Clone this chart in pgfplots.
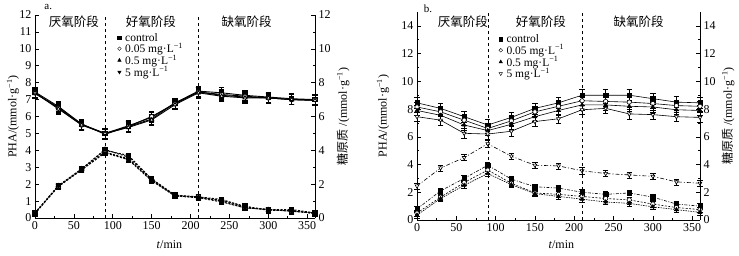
\documentclass[border=0pt]{standalone}
\usepackage{fontspec}
\setmainfont{Liberation Serif}
\newfontfamily\cjk{Noto Sans CJK SC}
\usepackage{pgfplots}
\usepackage{pgfplotstable}
\pgfplotsset{compat=1.18}

\pgfplotstableread{
t gc g005 g05 g5 pc p005 p05 p5
0 7.45 7.40 7.35 7.40 0.30 0.30 0.25 0.30
30 6.60 6.50 6.55 6.45 1.90 1.85 1.90 1.90
60 5.55 5.50 5.55 5.50 2.90 2.85 2.90 2.85
90 5.00 5.00 4.95 5.00 4.00 3.90 4.05 3.85
120 5.45 5.40 5.40 5.35 3.70 3.50 3.60 3.45
150 5.95 6.00 5.85 5.80 2.30 2.25 2.30 2.20
180 6.80 6.75 6.80 6.70 1.35 1.30 1.35 1.30
210 7.50 7.45 7.45 7.40 1.25 1.25 1.20 1.20
240 7.40 7.30 7.25 7.20 1.10 1.00 1.05 0.95
270 7.25 7.20 7.15 7.10 0.65 0.60 0.70 0.60
300 7.15 7.10 7.10 7.10 0.50 0.50 0.45 0.50
330 7.05 7.00 7.00 7.00 0.50 0.40 0.45 0.40
360 7.00 7.00 6.95 6.95 0.30 0.30 0.25 0.30
}\tabA

\pgfplotstableread{
t gc g005 g05 g5 pc p005 p05 p5
0 8.45 8.15 7.90 7.45 0.80 0.50 0.35 2.45
30 8.05 7.80 7.55 7.20 2.10 1.65 1.55 3.75
60 7.45 7.20 6.85 6.25 3.00 2.70 2.50 4.50
90 6.85 6.60 6.45 6.20 3.95 3.60 3.35 5.50
120 7.40 7.15 6.90 6.40 2.95 2.65 2.55 4.60
150 8.05 7.80 7.45 7.10 2.40 1.95 1.90 3.95
180 8.45 8.20 7.90 7.30 2.30 1.85 1.70 3.90
210 9.00 8.60 8.30 7.95 2.00 1.70 1.50 3.55
240 9.00 8.55 8.30 8.05 1.85 1.55 1.30 3.35
270 9.00 8.50 8.20 7.65 1.95 1.45 1.20 3.25
300 8.75 8.40 8.15 7.60 1.65 1.15 0.95 3.15
330 8.50 8.25 7.95 7.45 1.15 0.90 0.75 2.75
360 8.45 8.20 7.90 7.40 1.00 0.75 0.55 2.65
}\tabB

\newcommand{\fs}{\fontsize{12}{14}\selectfont}
\newcommand{\fc}{\fontsize{12.5}{14}\selectfont}
\pgfplotsset{
  base/.style={scale only axis, xmin=0, xmax=360, xtick={0,50,...,350},
    minor x tick num=1, tick align=inside, major tick length=4pt,
    minor tick length=2pt, /pgf/number format/assume math mode=true,
    tick label style={font=\fs}, label style={font=\fs}, clip=false,
    axis line style={line width=0.6pt},
    every tick/.style={black, line width=0.6pt}},
  sq/.style={mark=square*, mark options={solid, fill=black}},
  ci/.style={mark=*, mark options={solid, fill=white}},
  tr/.style={mark=triangle*, mark options={solid, fill=black}},
  ita/.style={mark=triangle*, mark options={solid, fill=black, rotate=180}},
  itb/.style={mark=triangle*, mark options={solid, fill=white, rotate=180}},
  eb/.style={error bars/y dir=both, error bars/y fixed=#1,
    error bars/error bar style={solid, line width=0.5pt},
    error bars/error mark options={solid, mark size=2.7pt, line width=0.5pt, rotate=90}},
  leg/.style={legend style={draw=none, fill=none, font=\fontsize{11.5}{12}\selectfont,
    row sep=-1.5pt, column sep=3pt, inner sep=0pt, nodes={inner sep=1pt}}, legend cell align=left},
}

\begin{document}
\begin{tikzpicture}
\useasboundingbox (0,0) rectangle (739pt,255pt);
% ---------------- panel a ----------------
\begin{axis}[base, at={(35pt,37pt)}, anchor=south west, width=280pt, height=203pt,
  ymin=0, ymax=12, ytick={0,...,12}, axis x line*=bottom, axis y line*=left,
  xlabel={\textit{t}/min}, ylabel={PHA/(mmol·g\textsuperscript{−1})},
  xlabel style={at={(axis description cs:0.48,-0.133)}, anchor=center},
  ylabel style={at={(axis description cs:-0.079,0.5)}, anchor=center},
  mark size=2.2pt]
\addplot[black, dashed, forget plot] coordinates {(90,0) (90,12)};
\addplot[black, dash pattern=on 2pt off 1.5pt, line width=1pt, sq, eb=0.15] table[x=t,y=pc]{\tabA};
\addplot[black, dash pattern=on 2pt off 1.5pt, line width=1pt, ci, eb=0.15] table[x=t,y=p005]{\tabA};
\addplot[black, dash pattern=on 2pt off 1.5pt, line width=1pt, tr, eb=0.15] table[x=t,y=p05]{\tabA};
\addplot[black, dash pattern=on 2pt off 1.5pt, line width=1pt, ita, eb=0.15] table[x=t,y=p5]{\tabA};
\node[font=\cjk\fc] at (axis cs:50,11.59) {厌氧阶段};
\node[font=\cjk\fc] at (axis cs:149,11.59) {好氧阶段};
\node[font=\cjk\fc] at (axis cs:272,11.59) {缺氧阶段};
\node[font=\fontsize{11}{12}\selectfont] at (axis cs:17,12.5) {a.};
\end{axis}
\begin{axis}[base, at={(35pt,37pt)}, anchor=south west, width=280pt, height=203pt,
  ymin=0, ymax=12, ytick={0,2,...,12}, minor y tick num=1,
  axis x line=none, axis y line*=right,
  ylabel={{\cjk 糖原质} /(mmol·g\textsuperscript{−1})},
  ylabel style={at={(axis description cs:1.1,0.5)}, anchor=center},
  mark size=2.2pt, leg, legend style={at={(axis cs:106,11.0)}, anchor=north west}]
\addplot[black, line width=0.9pt, sq, eb=0.3, forget plot] table[x=t,y=gc]{\tabA};
\addplot[black, line width=0.9pt, tr, eb=0.3, forget plot] table[x=t,y=g05]{\tabA};
\addplot[black, line width=0.9pt, ci, eb=0.3, forget plot] table[x=t,y=g005]{\tabA};
\addplot[black, line width=0.9pt, mark=triangle*, mark options={solid, fill=white}, eb=0.3, forget plot] table[x=t,y=g5]{\tabA};
\addplot[black, dashed, forget plot] coordinates {(210,0) (210,12)};
\addlegendimage{only marks, black, sq, mark size=1.8pt}
\addlegendentry{control}
\addlegendimage{only marks, black, ci, mark size=1.8pt}
\addlegendentry{0.05 mg·L\textsuperscript{−1}}
\addlegendimage{only marks, black, tr, mark size=2pt}
\addlegendentry{0.5 mg·L\textsuperscript{−1}}
\addlegendimage{only marks, black, ita, mark size=2pt}
\addlegendentry{5 mg·L\textsuperscript{−1}}
\end{axis}
% ---------------- panel b ----------------
\begin{axis}[base, at={(417pt,35pt)}, anchor=south west, width=283pt, height=208pt,
  ymin=0, ymax=15, ytick={0,2,...,14}, minor y tick num=1,
  axis x line*=bottom, axis y line*=left,
  xlabel={\textit{t}/min}, ylabel={PHA/(mmol·g\textsuperscript{−1})},
  xlabel style={at={(axis description cs:0.51,-0.12)}, anchor=center},
  ylabel style={at={(axis description cs:-0.12,0.5)}, anchor=center},
  mark size=2.2pt]
\addplot[black, dashed, forget plot] coordinates {(90,0) (90,15)};
\addplot[black, dash pattern=on 3pt off 1.5pt on 1pt off 1.5pt, line width=0.6pt, sq, eb=0.2] table[x=t,y=pc]{\tabB};
\addplot[black, dash pattern=on 2pt off 1.5pt, line width=0.6pt, ci, eb=0.2] table[x=t,y=p005]{\tabB};
\addplot[black, dash pattern=on 1.5pt off 1pt, line width=0.6pt, tr, eb=0.2] table[x=t,y=p05]{\tabB};
\addplot[black, dash pattern=on 4pt off 2pt on 1pt off 2pt, line width=0.6pt, itb, eb=0.22] table[x=t,y=p5]{\tabB};
\node[font=\cjk\fc] at (axis cs:58.5,14.28) {厌氧阶段};
\node[font=\cjk\fc] at (axis cs:157.7,14.28) {好氧阶段};
\node[font=\cjk\fc] at (axis cs:282,14.28) {缺氧阶段};
\node[font=\fontsize{11}{12}\selectfont] at (axis cs:14,15.2) {b.};
\end{axis}
\begin{axis}[base, at={(417pt,35pt)}, anchor=south west, width=283pt, height=208pt,
  ymin=0, ymax=15, ytick={0,2,...,14}, minor y tick num=1,
  axis x line=none, axis y line*=right,
  ylabel={{\cjk 糖原质} /(mmol·g\textsuperscript{−1})},
  ylabel style={at={(axis description cs:1.099,0.5)}, anchor=center},
  mark size=2.2pt, leg, legend style={at={(axis cs:104,13.45)}, anchor=north west}]
\addplot[black, line width=0.6pt, sq, eb=0.4, forget plot] table[x=t,y=gc]{\tabB};
\addplot[black, line width=0.6pt, ci, eb=0.35, forget plot] table[x=t,y=g005]{\tabB};
\addplot[black, line width=0.6pt, tr, eb=0.35, forget plot] table[x=t,y=g05]{\tabB};
\addplot[black, line width=0.6pt, itb, eb=0.35, forget plot] table[x=t,y=g5]{\tabB};
\addplot[black, dashed, forget plot] coordinates {(210,0) (210,15)};
\addlegendimage{only marks, black, sq, mark size=1.8pt}
\addlegendentry{control}
\addlegendimage{only marks, black, ci, mark size=1.8pt}
\addlegendentry{0.05 mg·L\textsuperscript{−1}}
\addlegendimage{only marks, black, tr, mark size=2pt}
\addlegendentry{0.5 mg·L\textsuperscript{−1}}
\addlegendimage{only marks, black, itb, mark size=2pt}
\addlegendentry{5 mg·L\textsuperscript{−1}}
\end{axis}
\end{tikzpicture}
\end{document}
